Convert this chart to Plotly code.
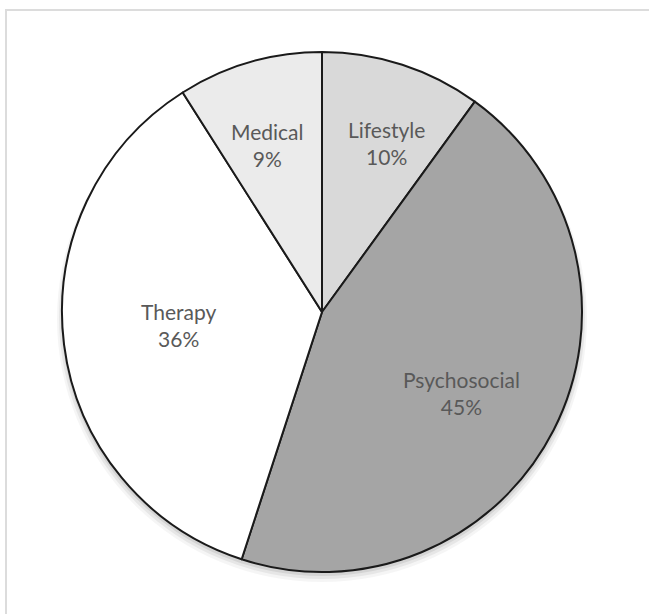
import math
import plotly.graph_objects as go

# Share of items per category
categories = ["Lifestyle", "Psychosocial", "Therapy", "Medical"]
shares = [10, 45, 36, 9]
slice_colors = ["#d9d9d9", "#a5a5a5", "#ffffff", "#ebebeb"]
# label placement: radius as a fraction of the pie radius, and a small
# angular nudge (degrees) away from the slice's middle angle
label_radius = [0.696, 0.62, 0.556, 0.676]
label_nudge = [3.0, 3.1, 2.0, -2.0]

W, H = 649, 614
cx, cy, R = 322, 312, 260  # pie centre and radius in pixels

fig = go.Figure(
    go.Pie(
        labels=categories,
        values=shares,
        sort=False,
        direction="clockwise",
        rotation=0,
        marker=dict(colors=slice_colors, line=dict(color="#1a1a1a", width=2)),
        textinfo="none",
        hoverinfo="label+percent",
        domain=dict(
            x=[(cx - R) / W, (cx + R) / W],
            y=[(H - (cy + R)) / H, (H - (cy - R)) / H],
        ),
        showlegend=False,
    )
)

# Labels near the middle angle of each slice
total = sum(shares)
annotations = []
start = 0.0
for name, v, rf, nudge in zip(categories, shares, label_radius, label_nudge):
    mid = math.radians((start + v / 2) / total * 360 + nudge)
    start += v
    px = cx + rf * R * math.sin(mid)
    py = cy - rf * R * math.cos(mid)
    annotations.append(
        dict(
            x=px / W,
            y=1 - py / H,
            xref="paper",
            yref="paper",
            xanchor="center",
            yanchor="middle",
            text=f"{name}<br>{round(v / total * 100)}%",
            showarrow=False,
            font=dict(family="Lato, Open Sans, sans-serif", size=21, color="#595959"),
            align="center",
        )
    )

# Soft drop shadow beneath the pie (spreads mostly downward)
shapes = []
for grow_side, grow_down, alpha in [(5, 10, 0.04), (3, 7, 0.06), (1, 4, 0.08)]:
    shapes.append(
        dict(
            type="circle",
            xref="paper",
            yref="paper",
            x0=(cx - R - grow_side) / W,
            x1=(cx + R + grow_side) / W,
            y0=1 - (cy + R + grow_down) / H,
            y1=1 - (cy - R + 4) / H,
            line=dict(width=0),
            fillcolor=f"rgba(0,0,0,{alpha})",
            layer="below",
        )
    )

# Chart area frame
shapes.append(
    dict(
        type="rect",
        xref="paper",
        yref="paper",
        x0=6 / W,
        x1=1.02,
        y0=-0.02,
        y1=1 - 10 / H,
        line=dict(color="#dcdcdc", width=2),
        fillcolor="rgba(0,0,0,0)",
        layer="below",
    )
)

fig.update_layout(
    width=W,
    height=H,
    margin=dict(l=0, r=0, t=0, b=0),
    paper_bgcolor="white",
    plot_bgcolor="white",
    annotations=annotations,
    shapes=shapes,
)

fig.write_html("out.html")
